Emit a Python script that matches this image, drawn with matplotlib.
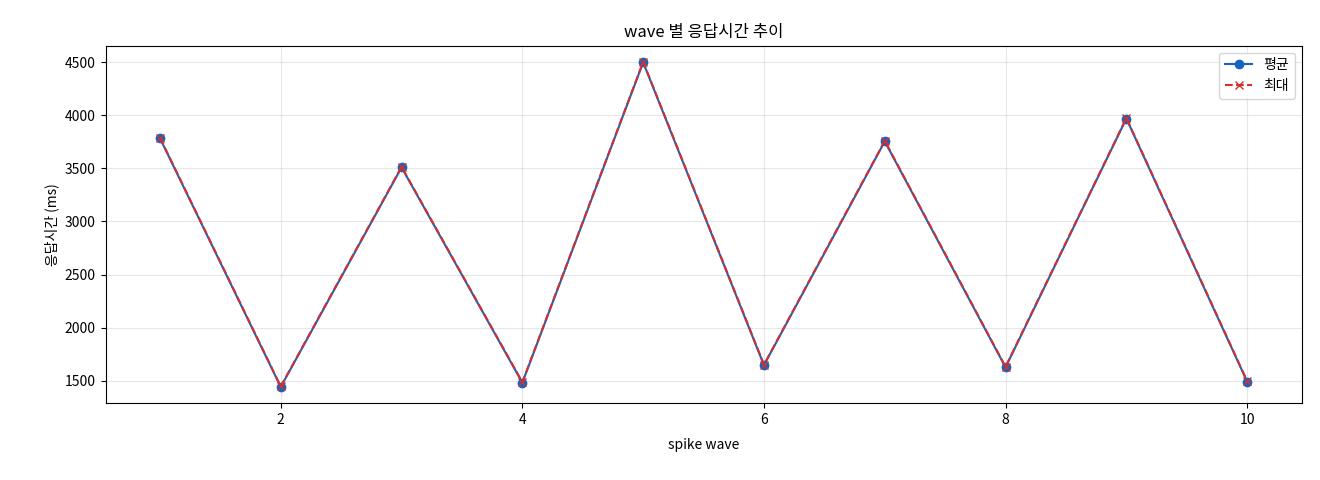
import matplotlib.pyplot as plt

plt.rcParams['font.family'] = ['Noto Sans CJK KR', 'DejaVu Sans']
plt.rcParams['axes.unicode_minus'] = False

waves = [1, 2, 3, 4, 5, 6, 7, 8, 9, 10]
avg_ms = [3785, 1440, 3510, 1480, 4500, 1645, 3755, 1625, 3970, 1490]
max_ms = [3790, 1445, 3515, 1485, 4505, 1650, 3760, 1630, 3975, 1495]

fig, ax = plt.subplots(figsize=(13.2, 4.8), dpi=100)
fig.subplots_adjust(left=0.08, right=0.986, top=0.905, bottom=0.16)

ax.plot(waves, avg_ms, marker='o', color='#1565c0', label='평균')
ax.plot(waves, max_ms, marker='x', linestyle='--', color='#d32f2f', label='최대')

ax.set_title('wave 별 응답시간 추이')
ax.set_xlabel('spike wave', labelpad=8)
ax.set_ylabel('응답시간 (ms)')
ax.grid(True, alpha=0.3)
ax.legend(loc='upper right')

fig.savefig('out.png')
